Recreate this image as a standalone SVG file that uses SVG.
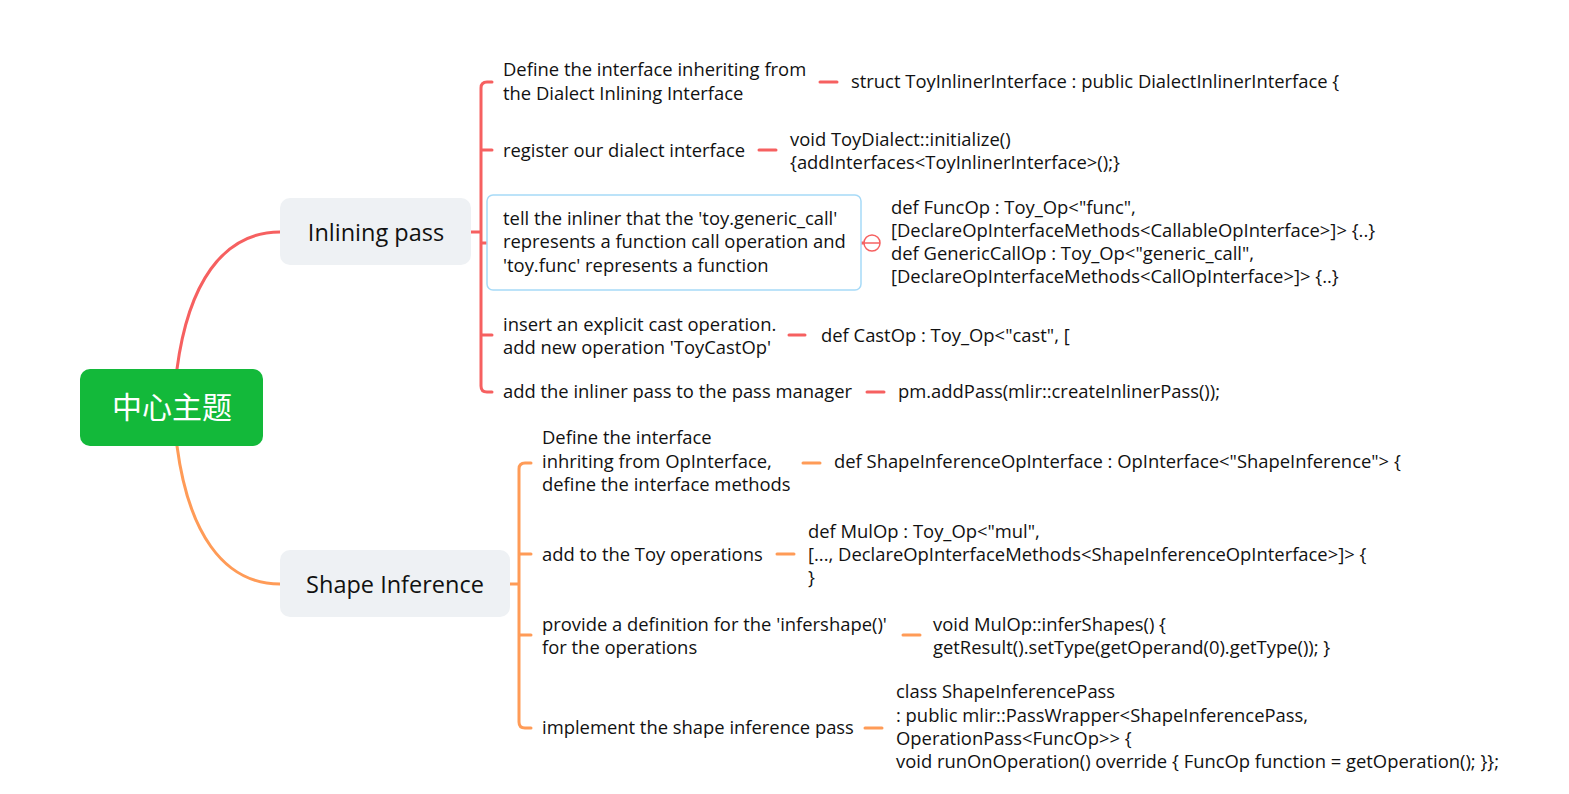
<svg xmlns="http://www.w3.org/2000/svg" width="1569" height="794" viewBox="0 0 1569 794">
<style>
.t{font-family:"Open Sans","Liberation Sans",sans-serif;font-size:18.4px;fill:#111}
.red{stroke:#F66060;fill:none;stroke-width:3;stroke-linecap:round}
.org{stroke:#FF9B57;fill:none;stroke-width:3;stroke-linecap:round}
.node{fill:#EEF1F4}
.nt{font-family:"Open Sans","Liberation Sans",sans-serif;font-size:23.5px;fill:#111;text-anchor:middle}
</style>
<rect width="1569" height="794" fill="#fff"/>
<g id="connectors">
<path class="red" d="M177,369 C188,285 222,232 280,232"/>
<path class="org" d="M177,446 C188,530 222,584 280,584"/>
<path class="red" d="M471,232 H481 M492,82 H487 Q481,82 481,88 V386 Q481,392 487,392 H492 M481,150 H492 M481,243 H492 M481,335 H492"/>
<path class="org" d="M510,584 H519 M531,463 H525 Q519,463 519,469 V722 Q519,728 525,728 H531 M519,554 H531 M519,635 H531"/>
<path class="red" d="M820,82 H837 M759,150 H776 M789,335 H805 M867,392 H884 M861,243 H864"/>
<path class="org" d="M803,463 H820 M777,554 H794 M903,635 H920 M865,728 H882"/>
</g>
<g id="root">
<rect x="80" y="369" width="183" height="77" rx="10" fill="#13B93A"/>
<text x="172" y="418" font-family="'Noto Sans CJK SC',sans-serif" font-size="30" fill="#fff" text-anchor="middle">中心主题</text>
</g>
<g id="inlining">
<rect class="node" x="280" y="198" width="191" height="67" rx="10"/>
<text class="nt" x="376" y="241">Inlining pass</text>
</g>
<g id="shape">
<rect class="node" x="280" y="550" width="230" height="67" rx="10"/>
<text class="nt" x="395" y="593">Shape Inference</text>
</g>
<g id="n1">
<text class="t" x="503" y="76">Define the interface inheriting from</text>
<text class="t" x="503" y="100">the Dialect Inlining Interface</text>
</g>
<g id="n1c"><text class="t" x="851" y="88">struct ToyInlinerInterface : public DialectInlinerInterface {</text></g>
<g id="n2"><text class="t" x="503" y="157">register our dialect interface</text></g>
<g id="n2c">
<text class="t" x="790" y="146">void ToyDialect::initialize()</text>
<text class="t" x="790" y="169">{addInterfaces&lt;ToyInlinerInterface&gt;();}</text>
</g>
<g id="n3">
<rect x="487" y="195" width="374" height="95" rx="6" fill="#fff" stroke="#A7DAF7" stroke-width="1.5"/>
<text class="t" x="503" y="225">tell the inliner that the 'toy.generic_call'</text>
<text class="t" x="503" y="248">represents a function call operation and</text>
<text class="t" x="503" y="272">'toy.func' represents a function</text>
<circle cx="872" cy="243" r="8" fill="#fff" stroke="#F66060" stroke-width="1.5"/>
<path d="M864,243 H880" stroke="#F66060" stroke-width="1.5"/>
</g>
<g id="n3c">
<text class="t" x="891" y="214">def FuncOp : Toy_Op&lt;"func",</text>
<text class="t" x="891" y="237">[DeclareOpInterfaceMethods&lt;CallableOpInterface&gt;]&gt; {..}</text>
<text class="t" x="891" y="260">def GenericCallOp : Toy_Op&lt;"generic_call",</text>
<text class="t" x="891" y="283">[DeclareOpInterfaceMethods&lt;CallOpInterface&gt;]&gt; {..}</text>
</g>
<g id="n4">
<text class="t" x="503" y="331">insert an explicit cast operation.</text>
<text class="t" x="503" y="354">add new operation 'ToyCastOp'</text>
</g>
<g id="n4c"><text class="t" x="821" y="342">def CastOp : Toy_Op&lt;"cast", [</text></g>
<g id="n5"><text class="t" x="503" y="398">add the inliner pass to the pass manager</text></g>
<g id="n5c"><text class="t" x="898" y="398">pm.addPass(mlir::createInlinerPass());</text></g>
<g id="s1">
<text class="t" x="542" y="444">Define the interface</text>
<text class="t" x="542" y="468">inhriting from OpInterface,</text>
<text class="t" x="542" y="491">define the interface methods</text>
</g>
<g id="s1c"><text class="t" x="834" y="468">def ShapeInferenceOpInterface : OpInterface&lt;"ShapeInference"&gt; {</text></g>
<g id="s2"><text class="t" x="542" y="561">add to the Toy operations</text></g>
<g id="s2c">
<text class="t" x="808" y="538">def MulOp : Toy_Op&lt;"mul",</text>
<text class="t" x="808" y="561">[..., DeclareOpInterfaceMethods&lt;ShapeInferenceOpInterface&gt;]&gt; {</text>
<text class="t" x="808" y="584">}</text>
</g>
<g id="s3">
<text class="t" x="542" y="631">provide a definition for the 'infershape()'</text>
<text class="t" x="542" y="654">for the operations</text>
</g>
<g id="s3c">
<text class="t" x="933" y="631">void MulOp::inferShapes() {</text>
<text class="t" x="933" y="654">getResult().setType(getOperand(0).getType()); }</text>
</g>
<g id="s4"><text class="t" x="542" y="734">implement the shape inference pass</text></g>
<g id="s4c">
<text class="t" x="896" y="698">class ShapeInferencePass</text>
<text class="t" x="896" y="722">: public mlir::PassWrapper&lt;ShapeInferencePass,</text>
<text class="t" x="896" y="745">OperationPass&lt;FuncOp&gt;&gt; {</text>
<text class="t" x="896" y="768">void runOnOperation() override { FuncOp function = getOperation(); }};</text>
</g>
</svg>
